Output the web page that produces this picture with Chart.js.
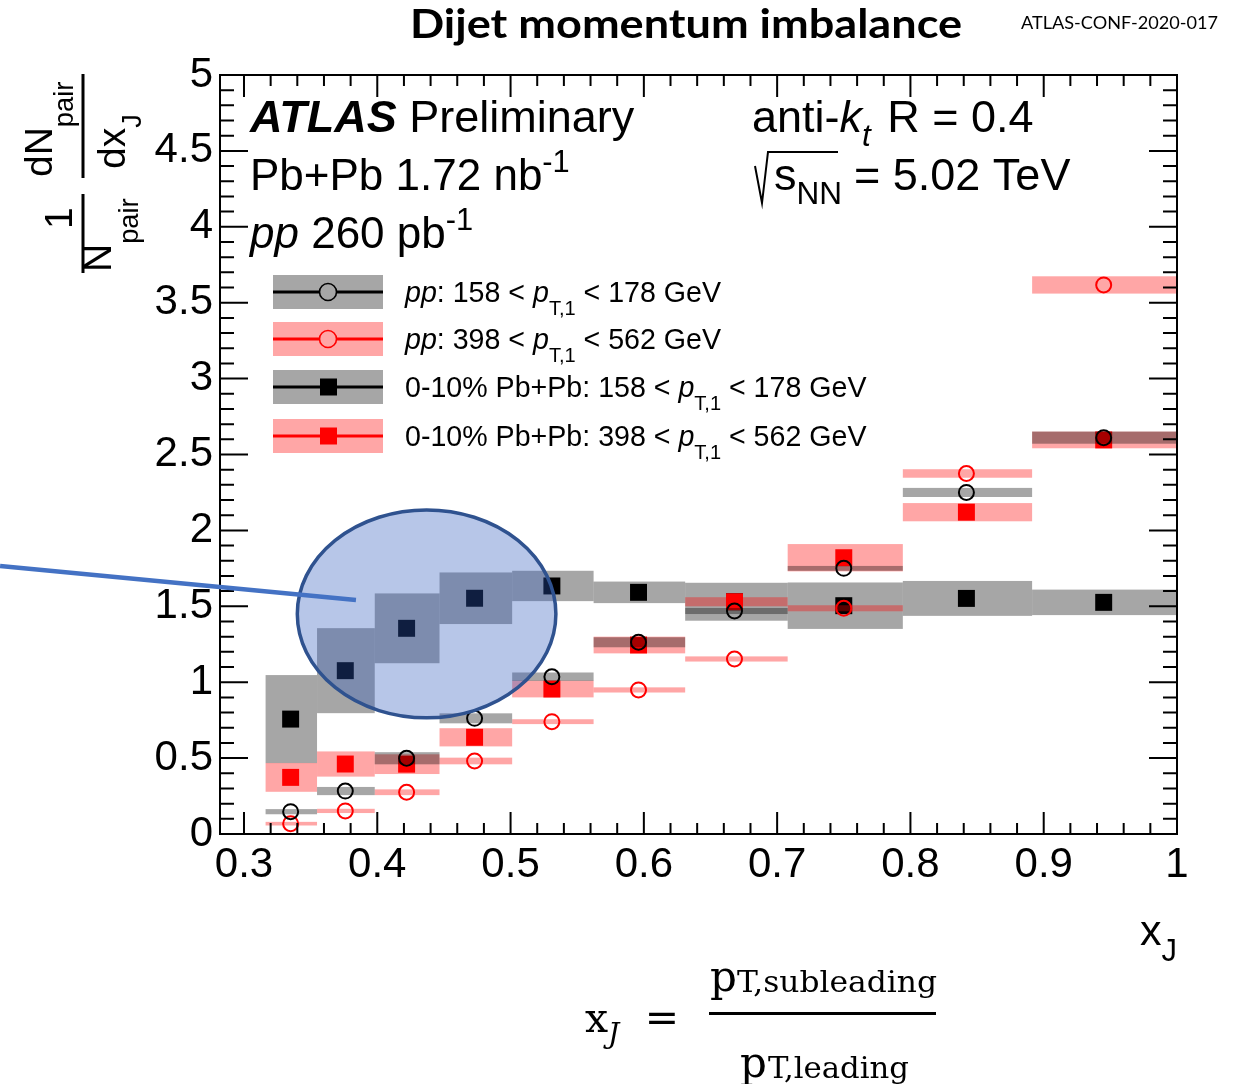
<!DOCTYPE html>
<html>
<head>
<meta charset="utf-8">
<title>Dijet momentum imbalance</title>
<script src="https://cdn.jsdelivr.net/npm/chart.js@4.4.1/dist/chart.umd.min.js"></script>
<style>
  html, body { margin: 0; padding: 0; background: #fff; }
  #wrap { position: relative; width: 1243px; height: 1084px; }
</style>
</head>
<body>
<div id="wrap"><canvas id="xjChart"></canvas></div>
<script>
// xJ binning (log-spaced) and marker positions
const binEdges = [0.3162, 0.3548, 0.3981, 0.4467, 0.5012, 0.5623, 0.6310, 0.7079, 0.7943, 0.8913, 1.0];
const binCenters = [0.335, 0.376, 0.422, 0.473, 0.531, 0.596, 0.668, 0.750, 0.842, 0.945];

// pp, 158 < pT,1 < 178 GeV
const ppLow = [0.147, 0.283, 0.499, 0.762, 1.036, 1.263, 1.469, 1.750, 2.250, 2.611];
const ppLowSys = [0.017, 0.027, 0.040, 0.033, 0.028, 0.033, 0.020, 0.016, 0.030, 0.040];

// pp, 398 < pT,1 < 562 GeV
const ppHigh = [0.068, 0.152, 0.275, 0.481, 0.740, 0.949, 1.153, 1.487, 2.375, 3.617];
const ppHighSys = [0.012, 0.014, 0.019, 0.022, 0.016, 0.017, 0.017, 0.020, 0.028, 0.057];

// 0-10% Pb+Pb, 158 < pT,1 < 178 GeV
const pbpbLow = [0.757, 1.076, 1.355, 1.553, 1.634, 1.592, 1.530, 1.504, 1.552, 1.526];
const pbpbLowSys = [0.290, 0.280, 0.230, 0.170, 0.100, 0.071, 0.125, 0.153, 0.115, 0.084];

// 0-10% Pb+Pb, 398 < pT,1 < 562 GeV
const pbpbHigh = [0.373, 0.461, 0.460, 0.637, 0.955, 1.245, 1.530, 1.820, 2.120, 2.596];
const pbpbHighSys = [0.095, 0.083, 0.065, 0.060, 0.055, 0.055, 0.030, 0.090, 0.060, 0.055];

const xTickValues = [0.3, 0.4, 0.5, 0.6, 0.7, 0.8, 0.9, 1.0];
const xTickLabels = ['0.3', '0.4', '0.5', '0.6', '0.7', '0.8', '0.9', '1'];
const yTickValues = [0, 0.5, 1, 1.5, 2, 2.5, 3, 3.5, 4, 4.5, 5];
const yTickLabels = ['0', '0.5', '1', '1.5', '2', '2.5', '3', '3.5', '4', '4.5', '5'];

// highlighted region and its pointer, in data coordinates
const highlightCenter = [0.437, 1.45];
const highlightRadii = [0.097, 0.685];
const pointerFrom = [0.117, 1.765];
const pointerTo = [0.384, 1.541];

const SANS = '"Liberation Sans", Arial, Helvetica, sans-serif';
const SERIF = '"DejaVu Serif", "Liberation Serif", serif';
const GREY_BOX = 'rgba(0, 0, 0, 0.35)';
const PINK_BOX = 'rgba(255, 0, 0, 0.35)';

const makeSeries = (label, values, sys, style, color, boxColor) => ({
  label,
  data: binCenters.map((x, i) => ({ x, y: values[i] })),
  sys,
  boxColor,
  pointStyle: style,
  pointRadius: style === 'rect' ? 12 : 7.5,
  pointHoverRadius: style === 'rect' ? 12 : 7.5,
  borderWidth: style === 'rect' ? 0 : 2,
  pointBorderColor: color,
  pointBackgroundColor: style === 'rect' ? color : 'rgba(0,0,0,0)',
  showLine: false,
});

// text with italic / sub / superscript pieces
const drawRich = (ctx, x, y, parts, size, family) => {
  let cx = x;
  parts.forEach((p) => {
    const s = p.sub || p.sup ? size * (p.scale || 0.7) : size;
    const dy = p.sub ? size * (p.drop || 0.3) : p.sup ? -size * 0.42 : 0;
    ctx.font = `${p.i ? 'italic ' : ''}${p.b ? 'bold ' : ''}${s}px ${family}`;
    ctx.fillText(p.t, cx, y + dy);
    cx += ctx.measureText(p.t).width + (p.gap || 0);
  });
  return cx;
};

// draw text squeezed/stretched horizontally to a given width
const fitText = (ctx, text, x, y, width, font) => {
  ctx.save();
  ctx.font = font;
  const w = ctx.measureText(text).width;
  ctx.translate(x, y);
  ctx.scale(width / w, 1);
  ctx.fillText(text, 0, 0);
  ctx.restore();
};

const legendRows = [
  { y: 292, box: GREY_BOX, color: '#000', marker: 'circle',
    parts: [{ t: 'pp', i: true }, { t: ': 158 < ' }, { t: 'p', i: true }, { t: 'T,1', sub: true, drop: 0.45 }, { t: ' < 178 GeV' }] },
  { y: 339, box: PINK_BOX, color: '#ff0000', marker: 'circle',
    parts: [{ t: 'pp', i: true }, { t: ': 398 < ' }, { t: 'p', i: true }, { t: 'T,1', sub: true, drop: 0.45 }, { t: ' < 562 GeV' }] },
  { y: 387, box: GREY_BOX, color: '#000', marker: 'rect',
    parts: [{ t: '0-10% Pb+Pb: 158 < ' }, { t: 'p', i: true }, { t: 'T,1', sub: true, drop: 0.45 }, { t: ' < 178 GeV' }] },
  { y: 436, box: PINK_BOX, color: '#ff0000', marker: 'rect',
    parts: [{ t: '0-10% Pb+Pb: 398 < ' }, { t: 'p', i: true }, { t: 'T,1', sub: true, drop: 0.45 }, { t: ' < 562 GeV' }] },
];

// systematic boxes, painted just before each series' markers
const sysBoxes = {
  id: 'sysBoxes',
  beforeDatasetDraw(chart, args) {
    const ds = chart.data.datasets[args.index];
    const { ctx, chartArea: a, scales: { x, y } } = chart;
    ctx.save();
    ctx.beginPath();
    ctx.rect(a.left, a.top, a.width, a.height);
    ctx.clip();
    ctx.fillStyle = ds.boxColor;
    ds.data.forEach((pt, i) => {
      const x0 = x.getPixelForValue(binEdges[i]);
      const x1 = x.getPixelForValue(binEdges[i + 1]);
      const y0 = y.getPixelForValue(pt.y + ds.sys[i]);
      const y1 = y.getPixelForValue(pt.y - ds.sys[i]);
      ctx.fillRect(x0, y0, x1 - x0, y1 - y0);
    });
    ctx.restore();
  },
};

const drawFrame = (chart) => {
  const { ctx, chartArea: a, scales: { x, y } } = chart;
  ctx.save();
  ctx.strokeStyle = '#000';
  ctx.lineWidth = 2;
  ctx.beginPath();
  for (let k = 15; k <= 50; k++) {
    const px = x.getPixelForValue(k / 50);
    const len = k % 5 === 0 ? 22 : 11;
    ctx.moveTo(px, a.bottom); ctx.lineTo(px, a.bottom - len);
    ctx.moveTo(px, a.top); ctx.lineTo(px, a.top + len);
  }
  for (let k = 0; k <= 50; k++) {
    const py = y.getPixelForValue(k / 10);
    const len = k % 5 === 0 ? 28 : 14;
    ctx.moveTo(a.left, py); ctx.lineTo(a.left + len, py);
    ctx.moveTo(a.right, py); ctx.lineTo(a.right - len, py);
  }
  ctx.stroke();
  ctx.strokeRect(a.left, a.top, a.right - a.left, a.bottom - a.top);
  ctx.restore();
};

const drawLegend = (ctx) => {
  ctx.save();
  legendRows.forEach((row) => {
    ctx.fillStyle = row.box;
    ctx.fillRect(273, row.y - 17, 110, 34);
    ctx.strokeStyle = row.color;
    ctx.lineWidth = 3;
    ctx.beginPath();
    if (row.marker === 'circle') {
      ctx.moveTo(273, row.y); ctx.lineTo(319, row.y);
      ctx.moveTo(337, row.y); ctx.lineTo(383, row.y);
      ctx.stroke();
      ctx.lineWidth = 1.6;
      ctx.beginPath();
      ctx.arc(328, row.y, 8.5, 0, Math.PI * 2);
      ctx.stroke();
    } else {
      ctx.moveTo(273, row.y); ctx.lineTo(383, row.y);
      ctx.stroke();
      ctx.fillStyle = row.color;
      ctx.fillRect(320, row.y - 8.5, 17, 17);
    }
    ctx.fillStyle = '#000';
    ctx.textBaseline = 'alphabetic';
    drawRich(ctx, 405, row.y + 10, row.parts, 28.6, SANS);
  });
  ctx.restore();
};

const drawLabels = (ctx) => {
  ctx.save();
  ctx.fillStyle = '#000';
  ctx.strokeStyle = '#000';
  ctx.textBaseline = 'alphabetic';
  ctx.textAlign = 'left';

  // header
  fitText(ctx, 'Dijet momentum imbalance', 410, 38, 552, `bold 41px Lato, "Open Sans", ${SANS}`);
  fitText(ctx, 'ATLAS-CONF-2020-017', 1021, 29, 197, `18px Lato, "Open Sans", ${SANS}`);

  // ATLAS block
  drawRich(ctx, 250, 132, [{ t: 'ATLAS', i: true, b: true }, { t: ' Preliminary' }], 45, SANS);
  drawRich(ctx, 250, 190, [{ t: 'Pb+Pb 1.72 nb' }, { t: '-1', sup: true }], 44, SANS);
  drawRich(ctx, 250, 248, [{ t: 'pp', i: true }, { t: ' 260 pb' }, { t: '-1', sup: true }], 44, SANS);
  drawRich(ctx, 752, 132, [{ t: 'anti-' }, { t: 'k', i: true }, { t: 't', i: true, sub: true, drop: 0.3, gap: 4 }, { t: ' R = 0.4' }], 45, SANS);

  // sqrt(s_NN)
  ctx.lineWidth = 2;
  ctx.beginPath();
  ctx.moveTo(755, 166);
  ctx.lineTo(762, 203);
  ctx.lineTo(768, 152);
  ctx.lineTo(838, 152);
  ctx.stroke();
  drawRich(ctx, 774, 190, [{ t: 's' }, { t: 'NN', sub: true, drop: 0.32, gap: 12 }, { t: '= 5.02 TeV' }], 45, SANS);

  // x axis title
  drawRich(ctx, 1140, 945, [{ t: 'x' }, { t: 'J', sub: true, drop: 0.38, scale: 0.72 }], 43, SANS);

  // y axis title: 1/N_pair dN_pair/dx_J, rotated
  ctx.translate(83, 273);
  ctx.rotate(-Math.PI / 2);
  ctx.fillRect(0, -1.5, 79, 3);
  ctx.fillRect(95, -1.5, 104, 3);
  ctx.font = `39px ${SANS}`;
  ctx.fillText('1', 44, -11);
  drawRich(ctx, 1, 28, [{ t: 'N' }, { t: 'pair', sub: true, drop: 0.68, scale: 0.7 }], 39, SANS);
  drawRich(ctx, 96, -31, [{ t: 'dN' }, { t: 'pair', sub: true, drop: 0.55, scale: 0.7 }], 39, SANS);
  drawRich(ctx, 104, 42, [{ t: 'dx' }, { t: 'J', sub: true, drop: 0.4, scale: 0.7 }], 39, SANS);
  ctx.setTransform(1, 0, 0, 1, 0, 0);

  // xJ definition
  ctx.font = `41px ${SERIF}`;
  ctx.fillText('x', 585, 1032);
  ctx.font = `italic 28px ${SERIF}`;
  ctx.fillText('J', 608, 1043);
  ctx.font = `41px ${SERIF}`;
  ctx.textAlign = 'center';
  ctx.fillText('=', 662, 1031);
  ctx.textAlign = 'left';
  ctx.fillRect(709, 1012, 227, 3);
  ctx.font = `42px ${SERIF}`;
  ctx.fillText('p', 710, 991);
  fitText(ctx, 'T,subleading', 737, 992, 200, `30px ${SERIF}`);
  ctx.font = `42px ${SERIF}`;
  ctx.fillText('p', 740, 1077);
  fitText(ctx, 'T,leading', 768, 1078, 141, `30px ${SERIF}`);
  ctx.restore();
};

// highlight ellipse + pointer line on top of everything
const drawHighlight = (chart) => {
  const { ctx, scales: { x, y } } = chart;
  const cx = x.getPixelForValue(highlightCenter[0]);
  const cy = y.getPixelForValue(highlightCenter[1]);
  const rx = x.getPixelForValue(highlightCenter[0] + highlightRadii[0]) - cx;
  const ry = cy - y.getPixelForValue(highlightCenter[1] + highlightRadii[1]);
  ctx.save();
  ctx.beginPath();
  ctx.ellipse(cx, cy, rx, ry, 0, 0, Math.PI * 2);
  ctx.fillStyle = 'rgba(44, 88, 188, 0.34)';
  ctx.fill();
  ctx.lineWidth = 3.5;
  ctx.strokeStyle = '#2f528f';
  ctx.stroke();
  ctx.beginPath();
  ctx.moveTo(x.getPixelForValue(pointerFrom[0]), y.getPixelForValue(pointerFrom[1]));
  ctx.lineTo(x.getPixelForValue(pointerTo[0]), y.getPixelForValue(pointerTo[1]));
  ctx.lineWidth = 4.5;
  ctx.strokeStyle = '#4472c4';
  ctx.stroke();
  ctx.restore();
};

const decorations = {
  id: 'decorations',
  afterDatasetsDraw(chart) {
    drawFrame(chart);
    drawLegend(chart.ctx);
    drawLabels(chart.ctx);
  },
  afterDraw(chart) {
    drawHighlight(chart);
  },
};

const axisFont = { family: SANS, size: 42 };

new Chart(document.getElementById('xjChart'), {
  type: 'scatter',
  data: {
    // index 0 is painted last (on top)
    datasets: [
      makeSeries('pp 158-178', ppLow, ppLowSys, 'circle', '#000000', GREY_BOX),
      makeSeries('pp 398-562', ppHigh, ppHighSys, 'circle', '#ff0000', PINK_BOX),
      makeSeries('PbPb 398-562', pbpbHigh, pbpbHighSys, 'rect', '#ff0000', PINK_BOX),
      makeSeries('PbPb 158-178', pbpbLow, pbpbLowSys, 'rect', '#000000', GREY_BOX),
    ],
  },
  options: {
    responsive: true,
    maintainAspectRatio: false,
    animation: false,
    events: [],
    layout: { padding: { top: 75, right: 66, bottom: 0, left: 0 } },
    plugins: { legend: { display: false }, tooltip: { enabled: false } },
    scales: {
      x: {
        type: 'linear',
        min: 0.282,
        max: 1.0,
        grid: { display: false, drawTicks: false },
        border: { display: false },
        afterBuildTicks: (s) => { s.ticks = xTickValues.map((value) => ({ value })); },
        afterFit: (s) => { s.height = 250; },
        ticks: {
          autoSkip: false,
          maxRotation: 0,
          padding: 6,
          color: '#000',
          font: axisFont,
          callback: (v, i) => xTickLabels[i],
        },
      },
      y: {
        type: 'linear',
        min: 0,
        max: 5,
        grid: { display: false, drawTicks: false },
        border: { display: false },
        afterBuildTicks: (s) => { s.ticks = yTickValues.map((value) => ({ value })); },
        afterFit: (s) => { s.width = 220; },
        ticks: {
          autoSkip: false,
          padding: 7,
          color: '#000',
          font: axisFont,
          callback: (v, i) => yTickLabels[i],
        },
      },
    },
  },
  plugins: [sysBoxes, decorations],
});
</script>
</body>
</html>
